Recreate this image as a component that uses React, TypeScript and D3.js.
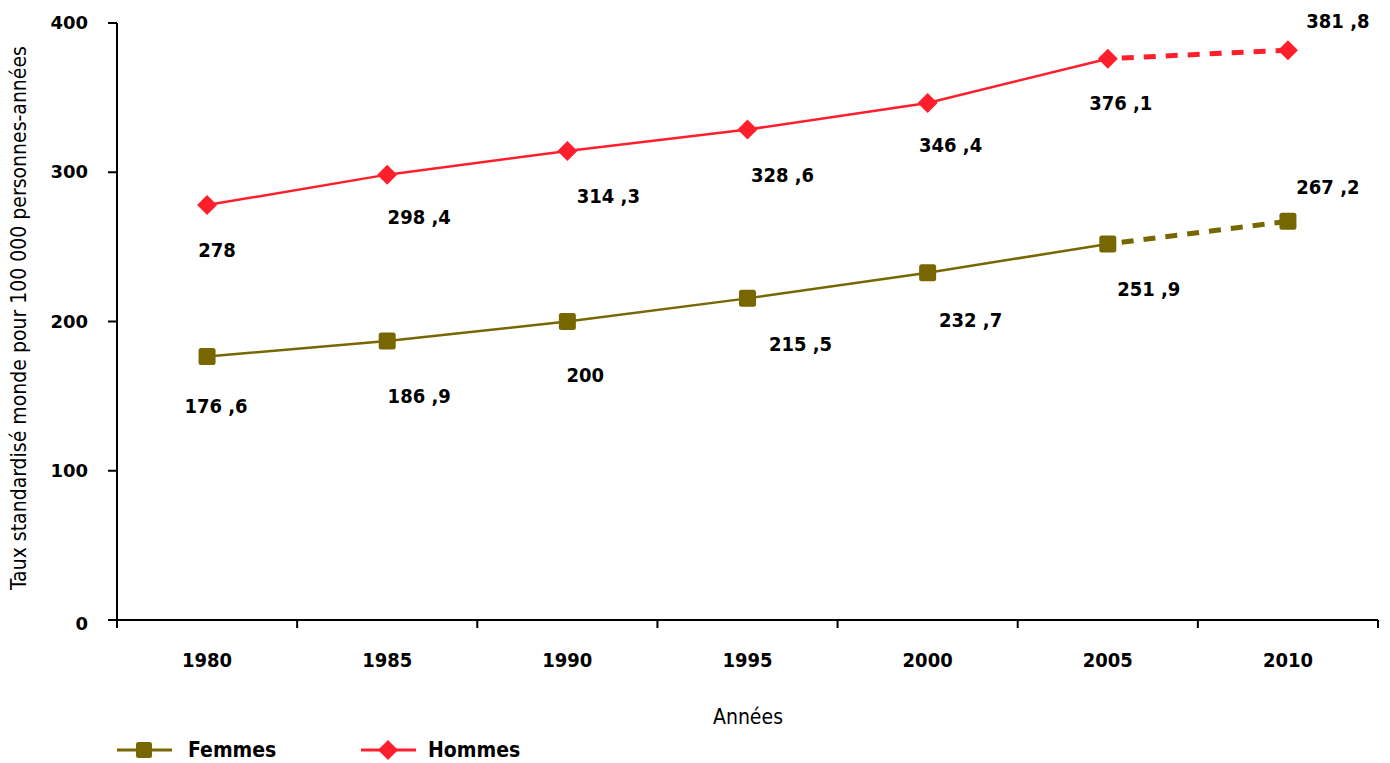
import * as d3 from 'd3';

const years = ['1980', '1985', '1990', '1995', '2000', '2005', '2010'];
const femmes = [176.6, 186.9, 200, 215.5, 232.7, 251.9, 267.2];
const hommes = [278, 298.4, 314.3, 328.6, 346.4, 376.1, 381.8];
const yTicks = [0, 100, 200, 300, 400];

// label offsets from the marker (dx, dy), as placed in the source chart
const femmesLabelOffsets: [number, number][] = [
  [9, 51], [32, 56], [18, 55], [53, 47], [43, 49], [41, 46], [40, -33],
];
const hommesLabelOffsets: [number, number][] = [
  [10, 46], [32, 44], [41, 47], [35, 47], [23, 44], [13, 46], [50, -28],
];

const W = 1390;
const H = 763;
const left = 117;
const right = 1378;
const top = 23;
const bottom = 620;

const RED = '#ff1f2c';
const OLIVE = '#786600';
const COND = '"DejaVu Sans Condensed", "DejaVu Sans", sans-serif';
const WIDE = '"DejaVu Sans", sans-serif';

const fmt = (v: number) => {
  const s = String(v);
  return s.includes('.') ? s.replace('.', ' ,') : s;
};

function Square({ x, y, size = 17 }: { x: number; y: number; size?: number }) {
  return (
    <rect x={x - size / 2} y={y - size / 2} width={size} height={size} rx={2.5} fill={OLIVE} />
  );
}

function Diamond({ x, y, r = 10 }: { x: number; y: number; r?: number }) {
  return <path d={`M${x},${y - r}L${x + r},${y}L${x},${y + r}L${x - r},${y}Z`} fill={RED} />;
}

export default function App() {
  const x = d3.scaleBand<string>().domain(years).range([left, right]);
  const y = d3.scaleLinear().domain([0, 400]).range([bottom, top]);
  const cx = (yr: string) => (x(yr) ?? 0) + x.bandwidth() / 2;

  // solid part: 1980-2005, dashed part: 2005-2010
  const solidLine = d3
    .line<number>()
    .x((_, i) => cx(years[i]))
    .y((d) => y(d));
  const dashLine = d3
    .line<number>()
    .x((_, i) => cx(years[i + 5]))
    .y((d) => y(d));

  const series = [
    { name: 'Femmes', values: femmes, color: OLIVE, offsets: femmesLabelOffsets, marker: 'square' },
    { name: 'Hommes', values: hommes, color: RED, offsets: hommesLabelOffsets, marker: 'diamond' },
  ];

  return (
    <svg
      width={W}
      height={H}
      style={{ position: 'absolute', left: 0, top: 0, background: '#fff' }}
      fontFamily={COND}
    >
      {/* y axis */}
      <line x1={left} x2={left} y1={top} y2={bottom} stroke="#000" strokeWidth={2} />
      {yTicks.map((t) => (
        <g key={t}>
          <line x1={left - 9} x2={left} y1={y(t)} y2={y(t)} stroke="#000" strokeWidth={2} />
          <text
            x={left - 29}
            y={y(t) + (t === 0 ? 5 : 1)}
            textAnchor="end"
            dominantBaseline="middle"
            fontSize={18}
            fontWeight="bold"
            fontFamily={WIDE}
          >
            {t}
          </text>
        </g>
      ))}
      {/* x axis */}
      <line x1={left - 9} x2={right} y1={bottom} y2={bottom} stroke="#000" strokeWidth={2} />
      {years.map((yr) => (
        <line
          key={'t' + yr}
          x1={x(yr)}
          x2={x(yr)}
          y1={bottom}
          y2={bottom + 8}
          stroke="#000"
          strokeWidth={2}
        />
      ))}
      <line x1={right} x2={right} y1={bottom} y2={bottom + 8} stroke="#000" strokeWidth={2} />
      {years.map((yr) => (
        <text
          key={'l' + yr}
          x={cx(yr)}
          y={661}
          textAnchor="middle"
          dominantBaseline="middle"
          fontSize={20}
          fontWeight="bold"
        >
          {yr}
        </text>
      ))}

      <text x={748} y={718} textAnchor="middle" dominantBaseline="middle" fontSize={21}>
        Années
      </text>
      <text
        transform={`translate(20,318) rotate(-90)`}
        textAnchor="middle"
        dominantBaseline="middle"
        fontSize={21}
      >
        Taux standardisé monde pour 100 000 personnes-années
      </text>

      {series.map((s) => (
        <g key={s.name}>
          <path
            d={solidLine(s.values.slice(0, 6)) ?? ''}
            fill="none"
            stroke={s.color}
            strokeWidth={2.5}
          />
          <path
            d={dashLine(s.values.slice(5)) ?? ''}
            fill="none"
            stroke={s.color}
            strokeWidth={5}
            strokeDasharray="12 10"
            strokeDashoffset={-14}
          />
          {s.values.map((v, i) =>
            s.marker === 'square' ? (
              <Square key={i} x={cx(years[i])} y={y(v)} />
            ) : (
              <Diamond key={i} x={cx(years[i])} y={y(v)} />
            ),
          )}
          {s.values.map((v, i) => (
            <text
              key={'v' + i}
              x={cx(years[i]) + s.offsets[i][0]}
              y={y(v) + s.offsets[i][1]}
              textAnchor="middle"
              dominantBaseline="middle"
              fontSize={20}
              fontWeight="bold"
            >
              {fmt(v)}
            </text>
          ))}
        </g>
      ))}

      {/* legend */}
      <line x1={117} x2={172} y1={750} y2={750} stroke={OLIVE} strokeWidth={3} />
      <Square x={144} y={750} size={16} />
      <text x={188} y={751} dominantBaseline="middle" fontSize={21} fontWeight="bold">
        Femmes
      </text>
      <line x1={361} x2={416} y1={750} y2={750} stroke={RED} strokeWidth={3} />
      <Diamond x={388} y={750} r={10} />
      <text x={428} y={751} dominantBaseline="middle" fontSize={21} fontWeight="bold">
        Hommes
      </text>
    </svg>
  );
}
